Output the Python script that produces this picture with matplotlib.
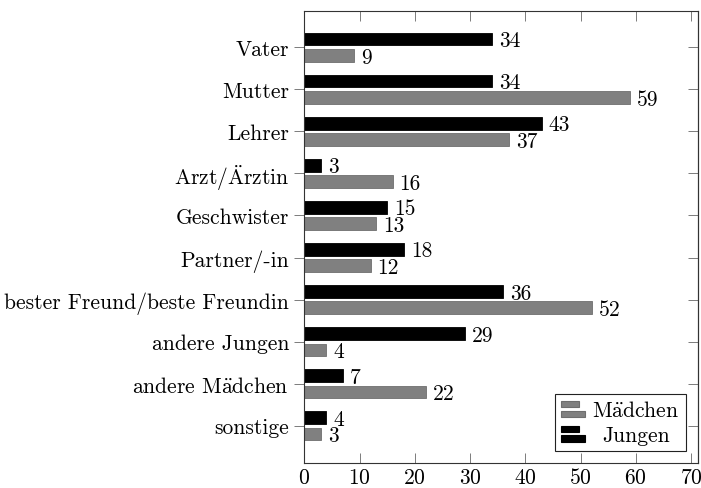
import numpy as np
import matplotlib
matplotlib.use('Agg')
import matplotlib.pyplot as plt
from matplotlib.patches import Rectangle
from matplotlib.legend_handler import HandlerBase

plt.rcParams['font.family'] = ['cmr10', 'DejaVu Serif']
plt.rcParams['mathtext.fontset'] = 'cm'
plt.rcParams['axes.formatter.use_mathtext'] = True
plt.rcParams['font.size'] = 15.5

# data (umlauts via mathtext, cmr10 has no Ä/ä glyphs)
categories = ['Vater', 'Mutter', 'Lehrer', r'Arzt/$\ddot{\rm A}$rztin',
              'Geschwister', 'Partner/-in', 'bester Freund/beste Freundin',
              'andere Jungen', r'andere M$\ddot{\rm a}$dchen', 'sonstige']
jungen = [34, 34, 43, 3, 15, 18, 36, 29, 7, 4]
maedchen = [9, 59, 37, 16, 13, 12, 52, 4, 22, 3]
series_labels = [r'M$\ddot{\rm a}$dchen', 'Jungen']
xticks = [0, 10, 20, 30, 40, 50, 60, 70]

GRAY = '#808080'


class TwoBarHandler(HandlerBase):
    """pgfplots-like xbar legend icon: two small stacked bars"""
    def create_artists(self, legend, orig_handle, xdescent, ydescent,
                       width, height, fontsize, trans):
        p = orig_handle.patches[0]
        fc, ec = p.get_facecolor(), p.get_edgecolor()
        h = height * 0.42
        r1 = Rectangle((-xdescent, -ydescent + height * 0.58), width * 0.75, h,
                       facecolor=fc, edgecolor=ec, lw=0.8, transform=trans)
        r2 = Rectangle((-xdescent, -ydescent - height * 0.05), width, h,
                       facecolor=fc, edgecolor=ec, lw=0.8, transform=trans)
        return [r1, r2]


fig = plt.figure(figsize=(7.01, 4.89), dpi=100)
ax = fig.add_axes([0.4341, 0.0505, 0.9953 - 0.4341, 0.9748 - 0.0505])

y = np.arange(len(categories))[::-1]
off = 0.195
hgt = 0.30

# black bars sit above the gray ones
b_m = ax.barh(y - off, maedchen, height=hgt, color=GRAY, edgecolor='#6e6e6e',
              linewidth=0.6, label=series_labels[0])
b_j = ax.barh(y + off, jungen, height=hgt, color='black', edgecolor='black',
              linewidth=0.6, label=series_labels[1])

for bars, vals in ((b_j, jungen), (b_m, maedchen)):
    for r, v in zip(bars, vals):
        ax.annotate(str(v), (v, r.get_y() + r.get_height() / 2),
                    xytext=(5, -1), textcoords='offset points',
                    ha='left', va='center')

ax.set_xlim(0, 71.2)
ax.set_ylim(-0.894, 9.856)
ax.set_xticks(xticks)
ax.set_yticks(y)
ax.set_yticklabels(categories)

for s in ax.spines.values():
    s.set_linewidth(0.8)
    s.set_color('#333333')

ax.tick_params(axis='x', direction='in', top=True, length=7, width=0.6,
               color='#666666', pad=3)
ax.tick_params(axis='y', direction='out', length=7, width=0.6,
               color='#666666', pad=4)
sec = ax.secondary_yaxis('right')
sec.set_yticks(y)
sec.tick_params(direction='in', length=7, width=0.6, color='#666666',
                labelright=False)
sec.spines['right'].set_linewidth(0.8)
sec.spines['right'].set_color('#333333')

leg = ax.legend(handles=[b_m, b_j], loc='lower right',
                handler_map={type(b_m): TwoBarHandler()},
                fancybox=False, framealpha=1, edgecolor='#222222',
                borderaxespad=0.55, handlelength=1.1, handletextpad=0.35,
                labelspacing=0.25, borderpad=0.3)
leg.get_frame().set_linewidth(0.8)

# centre the shorter label under the longer one, like pgfplots does
fig.canvas.draw()
r = fig.canvas.get_renderer()
texts = leg.get_texts()
w = [t.get_window_extent(r).width for t in texts]
for t, wi in zip(texts, w):
    t.set_x((max(w) - wi) / 2)

fig.savefig('out.png', dpi=100)
